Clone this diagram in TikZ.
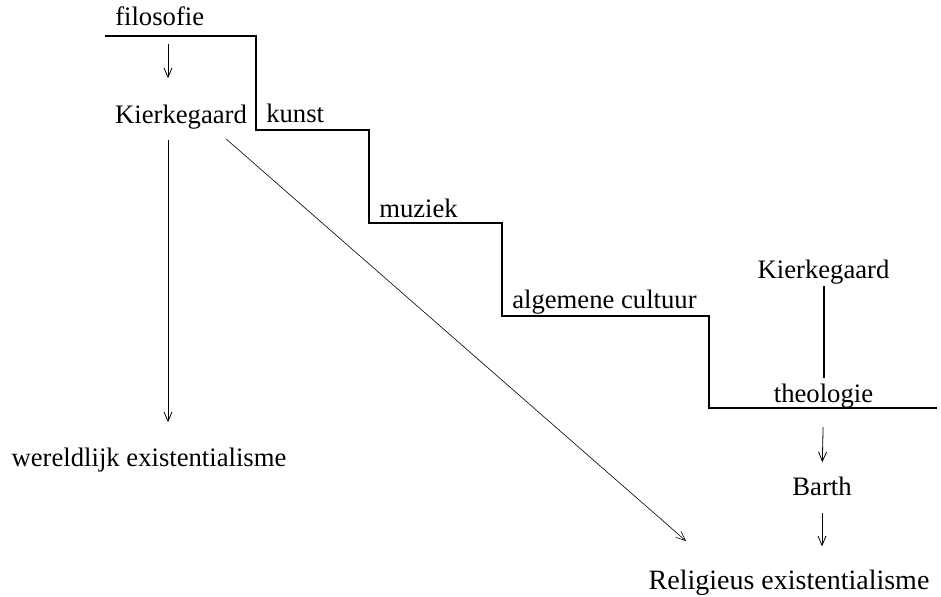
\documentclass[tikz,border=0pt]{standalone}
\usepackage{fontspec}
\setmainfont{Liberation Serif}
\usetikzlibrary{arrows.meta}

\begin{document}
\begin{tikzpicture}[x=0.75pt, y=-0.75pt,
    lbl/.style={inner sep=0pt, font=\fontsize{20}{24}\selectfont},
    arr/.style={-{Straight Barb[length=7pt,width=6pt]}, line width=0.6pt},
    stair/.style={line width=1.5pt}]
    \useasboundingbox (0,0) rectangle (941,596);

    % de trap
    \draw[stair] (105,36) -| (256,130) -| (369,223) -| (502,316) -| (709,408) -- (937,408);

    \node[lbl, anchor=base west] (filo) at (115,26) {filosofie};
    \node[lbl, anchor=base west] (kunst) at (266,122) {kunst};
    \node[lbl, anchor=base west] (muziek) at (379,217) {muziek};
    \node[lbl, anchor=base west] (cult) at (512,308) {algemene cultuur};

    \node[lbl, anchor=base] (kgA) at (181,123) {Kierkegaard};
    \node[lbl, anchor=base] (wer) at (149,466) {wereldlijk existentialisme};

    \node[lbl, anchor=base] (kgB) at (823.5,278) {Kierkegaard};
    \node[lbl, anchor=base] (theo) at (823.5,402) {theologie};
    \node[lbl, anchor=base] (barth) at (822,495) {Barth};
    \node[lbl, anchor=base, font=\fontsize{21}{25}\selectfont] (rel) at (789,589) {Religieus existentialisme};

    \coordinate (colL) at (168,0);
    \coordinate (diagEnd) at (686,541);

    \draw[arr, shorten <=12.75pt, shorten >=19.5pt] (filo.south -| colL) -- (kgA.north -| colL);
    \draw[arr, shorten <=8.25pt, shorten >=18.75pt] (kgA.south -| colL) -- (wer.north -| colL);
    \draw[arr, line width=0.45pt] ([xshift=-15.75pt,yshift=-7.5pt]kgA.south east) -- (diagEnd);

    \draw[stair, shorten <=1.5pt, shorten >=3.6pt] (kgB.south) -- (theo.north);
    \draw[arr, shorten <=14.25pt, shorten >=10.5pt] (theo.south) -- (barth.north);
    \draw[arr, shorten <=12.75pt, shorten >=17.25pt] (barth.south) -- (barth.south |- rel.north);
\end{tikzpicture}
\end{document}
